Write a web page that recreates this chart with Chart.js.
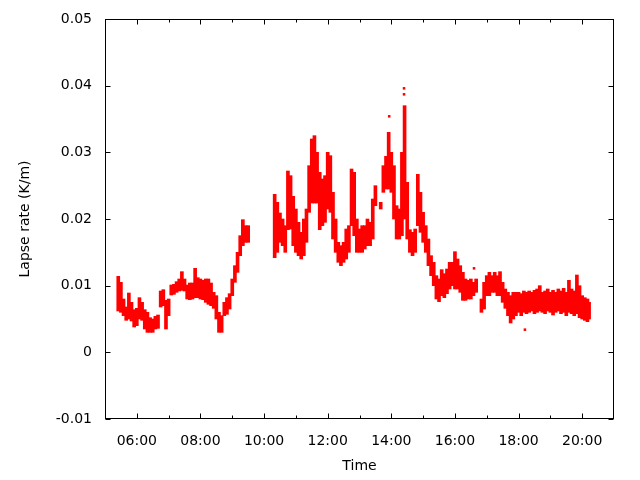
<!DOCTYPE html>
<html>
<head>
<meta charset="utf-8">
<script src="https://cdn.jsdelivr.net/npm/chart.js@4/dist/chart.umd.min.js"></script>
<style>
  body { margin: 0; background: #fff; }
  #wrap { width: 640px; height: 480px; }
</style>
</head>
<body>
<div id="wrap"><canvas id="chart" width="640" height="480"></canvas></div>
<script>
// readings every 5 minutes: low and high edge of the scatter at that time
const times = [
  '05:25', '05:30', '05:35', '05:40', '05:45', '05:50', '05:55', '06:00', '06:05', '06:10',
  '06:15', '06:20', '06:25', '06:30', '06:35', '06:40', '06:45', '06:50', '06:55', '07:00',
  '07:05', '07:10', '07:15', '07:20', '07:25', '07:30', '07:35', '07:40', '07:45', '07:50',
  '07:55', '08:00', '08:05', '08:10', '08:15', '08:20', '08:25', '08:30', '08:35', '08:40',
  '08:45', '08:50', '08:55', '09:00', '09:05', '09:10', '09:15', '09:20', '09:25', '09:30',
  '10:20', '10:25', '10:30', '10:35', '10:40', '10:45', '10:50', '10:55', '11:00', '11:05',
  '11:10', '11:15', '11:20', '11:25', '11:30', '11:35', '11:40', '11:45', '11:50', '11:55',
  '12:00', '12:05', '12:10', '12:15', '12:20', '12:25', '12:30', '12:35', '12:40', '12:45',
  '12:50', '12:55', '13:00', '13:05', '13:10', '13:15', '13:20', '13:25', '13:30', '13:40',
  '13:45', '13:50', '13:55', '14:00', '14:05', '14:10', '14:15', '14:20', '14:25', '14:30',
  '14:35', '14:40', '14:45', '14:50', '14:55', '15:00', '15:05', '15:10', '15:15', '15:20',
  '15:25', '15:30', '15:35', '15:40', '15:45', '15:50', '15:55', '16:00', '16:05', '16:10',
  '16:15', '16:20', '16:25', '16:30', '16:35', '16:40', '16:50', '16:55', '17:00', '17:05',
  '17:10', '17:15', '17:20', '17:25', '17:30', '17:35', '17:40', '17:45', '17:50', '17:55',
  '18:00', '18:05', '18:10', '18:15', '18:20', '18:25', '18:30', '18:35', '18:40', '18:45',
  '18:50', '18:55', '19:00', '19:05', '19:10', '19:15', '19:20', '19:25', '19:30', '19:35',
  '19:40', '19:45', '19:50', '19:55', '20:00', '20:05', '20:10', '20:13'
];
const lowVals = [
  0.0062, 0.0060, 0.0055, 0.0048, 0.0050, 0.0047, 0.0038, 0.0040, 0.0050, 0.0048,
  0.0035, 0.0030, 0.0030, 0.0030, 0.0035, 0.0036, 0.0068, 0.0070, 0.0035, 0.0055,
  0.0086, 0.0087, 0.0090, 0.0092, 0.0093, 0.0092, 0.0080, 0.0079, 0.0080, 0.0082,
  0.0082, 0.0080, 0.0079, 0.0075, 0.0072, 0.0070, 0.0066, 0.0050, 0.0030, 0.0030,
  0.0055, 0.0057, 0.0065, 0.0085, 0.0105, 0.0120, 0.0145, 0.0160, 0.0165, 0.0165,
  0.0142, 0.0150, 0.0165, 0.0160, 0.0150, 0.0184, 0.0185, 0.0160, 0.0150, 0.0145,
  0.0140, 0.0145, 0.0165, 0.0210, 0.0224, 0.0224, 0.0224, 0.0184, 0.0190, 0.0195,
  0.0215, 0.0210, 0.0170, 0.0150, 0.0135, 0.0130, 0.0135, 0.0140, 0.0150, 0.0190,
  0.0175, 0.0150, 0.0150, 0.0150, 0.0155, 0.0160, 0.0160, 0.0170, 0.0220, 0.0215,
  0.0240, 0.0245, 0.0245, 0.0240, 0.0200, 0.0170, 0.0170, 0.0175, 0.0200, 0.0170,
  0.0150, 0.0145, 0.0150, 0.0190, 0.0180, 0.0165, 0.0150, 0.0130, 0.0115, 0.0100,
  0.0080, 0.0076, 0.0085, 0.0082, 0.0088, 0.0095, 0.0100, 0.0095, 0.0095, 0.0090,
  0.0078, 0.0078, 0.0080, 0.0080, 0.0085, 0.0090, 0.0060, 0.0065, 0.0085, 0.0085,
  0.0090, 0.0090, 0.0085, 0.0085, 0.0075, 0.0066, 0.0055, 0.0044, 0.0050, 0.0055,
  0.0060, 0.0055, 0.0060, 0.0058, 0.0060, 0.0062, 0.0058, 0.0060, 0.0062, 0.0060,
  0.0058, 0.0062, 0.0060, 0.0056, 0.0060, 0.0062, 0.0058, 0.0060, 0.0055, 0.0060,
  0.0058, 0.0055, 0.0058, 0.0052, 0.0050, 0.0048, 0.0046, 0.0050
];
const highVals = [
  0.0114, 0.0105, 0.0080, 0.0068, 0.0089, 0.0075, 0.0064, 0.0066, 0.0082, 0.0075,
  0.0064, 0.0060, 0.0052, 0.0050, 0.0054, 0.0056, 0.0092, 0.0094, 0.0078, 0.0080,
  0.0101, 0.0102, 0.0106, 0.0110, 0.0121, 0.0110, 0.0101, 0.0104, 0.0104, 0.0126,
  0.0112, 0.0110, 0.0108, 0.0110, 0.0110, 0.0104, 0.0090, 0.0085, 0.0060, 0.0055,
  0.0075, 0.0082, 0.0088, 0.0110, 0.0130, 0.0150, 0.0175, 0.0199, 0.0190, 0.0190,
  0.0237, 0.0225, 0.0209, 0.0200, 0.0190, 0.0272, 0.0265, 0.0234, 0.0215, 0.0195,
  0.0180, 0.0200, 0.0215, 0.0280, 0.0320, 0.0325, 0.0300, 0.0270, 0.0260, 0.0265,
  0.0300, 0.0295, 0.0240, 0.0200, 0.0165, 0.0160, 0.0165, 0.0185, 0.0190, 0.0275,
  0.0270, 0.0200, 0.0185, 0.0190, 0.0190, 0.0200, 0.0195, 0.0230, 0.0250, 0.0225,
  0.0280, 0.0294, 0.0330, 0.0300, 0.0280, 0.0220, 0.0215, 0.0300, 0.0370, 0.0255,
  0.0184, 0.0180, 0.0185, 0.0267, 0.0240, 0.0210, 0.0190, 0.0170, 0.0145, 0.0135,
  0.0115, 0.0110, 0.0124, 0.0118, 0.0125, 0.0135, 0.0135, 0.0151, 0.0140, 0.0130,
  0.0120, 0.0110, 0.0108, 0.0110, 0.0105, 0.0110, 0.0080, 0.0105, 0.0115, 0.0120,
  0.0115, 0.0120, 0.0115, 0.0121, 0.0105, 0.0095, 0.0090, 0.0085, 0.0090, 0.0090,
  0.0090, 0.0088, 0.0092, 0.0090, 0.0092, 0.0090, 0.0093, 0.0095, 0.0100, 0.0090,
  0.0092, 0.0095, 0.0090, 0.0093, 0.0090, 0.0095, 0.0092, 0.0096, 0.0090, 0.0108,
  0.0095, 0.0092, 0.0116, 0.0100, 0.0085, 0.0082, 0.0080, 0.0075
];
// single readings standing apart from the band
const spikeTimes = ['13:56', '14:24', '14:24', '16:36', '18:12'];
const spikeVals = [0.0354, 0.0396, 0.0387, 0.0126, 0.0034];

const yTicks = [-0.01, 0, 0.01, 0.02, 0.03, 0.04, 0.05];

function toMin(s) {
  const p = s.split(':');
  return Number(p[0]) * 60 + Number(p[1]);
}

const bandData = times.map((t, i) => ({ x: toMin(t), y: [lowVals[i], highVals[i]] }));
const spikeData = spikeTimes.map((t, i) => ({ x: toMin(t), y: spikeVals[i] }));

const FONT = { family: 'DejaVu Sans', size: 14 };

// gnuplot style frame with inward ticks on all four sides
const framePlugin = {
  id: 'frame',
  afterDatasetsDraw(chart) {
    const { ctx, chartArea, scales } = chart;
    const L = Math.round(chartArea.left) + 0.5;
    const R = Math.round(chartArea.right) - 0.5;
    const T = Math.round(chartArea.top) + 0.5;
    const B = Math.round(chartArea.bottom) - 0.5;
    ctx.save();
    ctx.strokeStyle = '#000';
    ctx.lineWidth = 1;
    ctx.strokeRect(L, T, R - L, B - T);
    ctx.beginPath();
    yTicks.forEach(v => {
      const py = Math.round(scales.y.getPixelForValue(v)) + 0.5;
      ctx.moveTo(L, py); ctx.lineTo(L + 5, py);
      ctx.moveTo(R, py); ctx.lineTo(R - 5, py);
    });
    for (let h = 6; h <= 20; h++) {
      const px = Math.round(scales.x.getPixelForValue(h * 60)) + 0.5;
      const len = h % 2 === 0 ? 5 : 3;
      ctx.moveTo(px, B); ctx.lineTo(px, B - len);
      ctx.moveTo(px, T); ctx.lineTo(px, T + len);
    }
    ctx.stroke();
    ctx.restore();
  }
};

const ctx = document.getElementById('chart').getContext('2d');
new Chart(ctx, {
  type: 'bar',
  data: {
    datasets: [
      {
        data: bandData,
        backgroundColor: '#ff0000',
        borderWidth: 0,
        barThickness: 3
      },
      {
        type: 'scatter',
        data: spikeData,
        backgroundColor: '#ff0000',
        borderWidth: 0,
        pointStyle: 'rect',
        pointRadius: 1.8
      }
    ]
  },
  options: {
    responsive: false,
    animation: false,
    layout: { padding: { top: 19, right: 26, left: 0, bottom: 0 } },
    plugins: { legend: { display: false }, tooltip: { enabled: false } },
    scales: {
      x: {
        type: 'linear',
        offset: false,
        min: 300,
        max: 1260,
        grid: { display: false },
        border: { display: false },
        afterFit(scale) { scale.height = 61; },
        ticks: {
          stepSize: 60,
          autoSkip: false,
          maxRotation: 0,
          padding: 6,
          color: '#000',
          font: FONT,
          callback(v) {
            if (v % 120 !== 0) return '';
            const h = v / 60;
            return (h < 10 ? '0' : '') + h + ':00';
          }
        },
        title: {
          display: true,
          text: 'Time',
          color: '#000',
          font: FONT,
          padding: { top: 0, bottom: 5 }
        }
      },
      y: {
        min: -0.01,
        max: 0.05,
        grid: { display: false },
        border: { display: false },
        afterFit(scale) { scale.width = 105; },
        ticks: {
          stepSize: 0.01,
          padding: 5,
          color: '#000',
          font: FONT,
          callback(v) {
            return Math.abs(v) < 1e-9 ? '0' : Number(v.toFixed(2)).toString();
          }
        },
        title: {
          display: true,
          text: 'Lapse rate (K/m)',
          color: '#000',
          font: FONT,
          padding: { top: 17, bottom: 0 }
        }
      }
    }
  },
  plugins: [framePlugin]
});
</script>
</body>
</html>
